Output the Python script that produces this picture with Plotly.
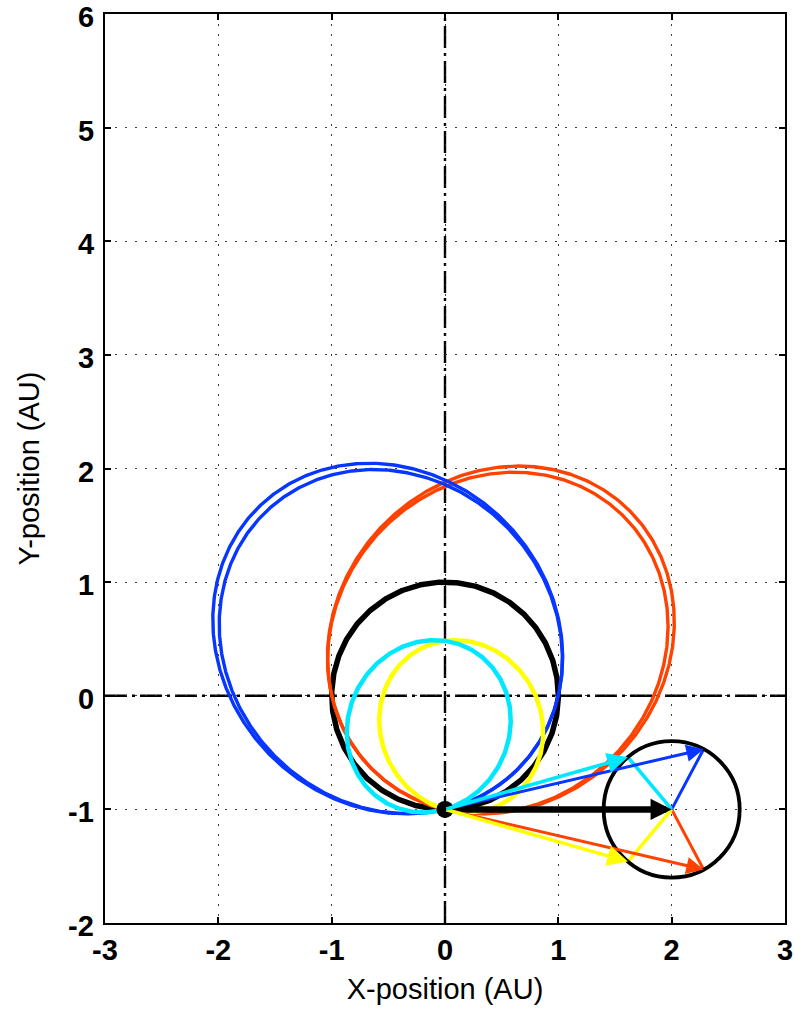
import numpy as np
import plotly.graph_objects as go

# ---------------- data ----------------
x_ticks = [-3, -2, -1, 0, 1, 2, 3]
y_ticks = [-2, -1, 0, 1, 2, 3, 4, 5, 6]
x_range = [-3, 3]
y_range = [-2, 6]

earth_pos = [0.0, -1.0]          # AU
earth_vel = [1.0, 0.0]           # in units of Earth's orbital speed
arrow_scale = 2.0                # velocity arrows drawn at 2x
dv_mag = 0.30                    # delta-v magnitude drawn in the velocity diagram
dv_angle_deg = [62, -62, 130, -130]
dv_colors = ["#0636ff", "#ff4200", "#00e8ff", "#ffff00"]
orbit_dv_lap1 = [0.299, 0.295, 0.300, 0.300]
orbit_dv_lap2 = [0.308, 0.304, None, None]
earth_color = "#000000"


def orbit(r0, v0, n=700):
    x, y = r0
    vx, vy = v0
    r = np.hypot(x, y)
    h = x * vy - y * vx
    en = 0.5 * (vx * vx + vy * vy) - 1.0 / r
    a = -1.0 / (2.0 * en)
    ex = vy * h - x / r
    ey = -vx * h - y / r
    e = np.hypot(ex, ey)
    if e < 1e-9:
        ux, uy = 1.0, 0.0
    else:
        ux, uy = ex / e, ey / e
    wx, wy = -uy, ux
    b = a * np.sqrt(1 - e * e)
    cx, cy = -a * e * ux, -a * e * uy
    t = np.linspace(0, 2 * np.pi, n)
    px = cx + a * np.cos(t) * ux + b * np.sin(t) * wx
    py = cy + a * np.cos(t) * uy + b * np.sin(t) * wy
    return px, py


def launch_vel(mag, ang):
    th = np.deg2rad(ang)
    return [earth_vel[0] + mag * np.cos(th), earth_vel[1] + mag * np.sin(th)]


fig = go.Figure()

# Earth orbit
ex_, ey_ = orbit(earth_pos, earth_vel)
fig.add_trace(go.Scatter(x=ex_, y=ey_, mode="lines",
                         line=dict(color=earth_color, width=5.5), hoverinfo="skip"))

# transfer orbits (drawing order: orange, blue, yellow, cyan)
order = [1, 0, 3, 2]
for i in order:
    w = 3.4 if orbit_dv_lap2[i] is not None else 4.5
    for mag in (orbit_dv_lap1[i], orbit_dv_lap2[i]):
        if mag is None:
            continue
        px, py = orbit(earth_pos, launch_vel(mag, dv_angle_deg[i]))
        fig.add_trace(go.Scatter(x=px, y=py, mode="lines",
                                 line=dict(color=dv_colors[i], width=w), hoverinfo="skip"))

# Earth position marker
fig.add_trace(go.Scatter(x=[earth_pos[0]], y=[earth_pos[1]], mode="markers",
                         marker=dict(color="black", size=17), hoverinfo="skip"))

# velocity diagram: delta-v circle
circ_c = [earth_pos[0] + arrow_scale * earth_vel[0], earth_pos[1] + arrow_scale * earth_vel[1]]
circ_r = arrow_scale * dv_mag
fig.add_shape(type="circle", xref="x", yref="y",
              x0=circ_c[0] - circ_r, x1=circ_c[0] + circ_r,
              y0=circ_c[1] - circ_r, y1=circ_c[1] + circ_r,
              line=dict(color="black", width=3.8), layer="above")

annotations = []
# Earth velocity arrow
annotations.append(dict(x=circ_c[0], y=circ_c[1], ax=earth_pos[0], ay=earth_pos[1],
                        xref="x", yref="y", axref="x", ayref="y", text="",
                        showarrow=True, arrowhead=2, arrowsize=0.65, arrowwidth=6.5,
                        arrowcolor="black"))
arrow_w = [3, 3, 3.6, 3.6]
for i in [1, 0, 3, 2]:
    v = launch_vel(dv_mag, dv_angle_deg[i])
    tip = [earth_pos[0] + arrow_scale * v[0], earth_pos[1] + arrow_scale * v[1]]
    fig.add_trace(go.Scatter(x=[circ_c[0], tip[0]], y=[circ_c[1], tip[1]], mode="lines",
                             line=dict(color=dv_colors[i], width=arrow_w[i]), hoverinfo="skip"))
    annotations.append(dict(x=tip[0], y=tip[1], ax=earth_pos[0], ay=earth_pos[1],
                            xref="x", yref="y", axref="x", ayref="y", text="",
                            showarrow=True, arrowhead=2, arrowsize=1.15, arrowwidth=arrow_w[i],
                            arrowcolor=dv_colors[i]))

# dash-dot axes through the origin
dashdot = "22px,5px,3px,5px"
fig.add_shape(type="line", xref="x", yref="y", x0=0, x1=0, y0=y_range[0], y1=y_range[1],
              line=dict(color="black", width=2.4, dash=dashdot), layer="below")
fig.add_shape(type="line", xref="x", yref="y", x0=x_range[0], x1=x_range[1], y0=0, y1=0,
              line=dict(color="black", width=2.4, dash=dashdot), layer="below")

tickfont = dict(family="Liberation Sans, Arial, sans-serif", size=29, color="black", weight="bold")
titlefont = dict(family="Liberation Sans, Arial, sans-serif", size=29, color="black")

# y tick labels as text placed beside the axis (slightly below each gridline, as in the original)
for v in y_ticks:
    annotations.append(dict(x=0, xref="paper", y=v, yref="y", text=str(v), showarrow=False,
                            xanchor="right", yanchor="middle", xshift=-10, yshift=-3,
                            font=tickfont, borderpad=0))
# y axis title
annotations.append(dict(x=0, xref="paper", y=0.5, yref="paper", text="Y-position (AU)",
                        showarrow=False, textangle=-90, xanchor="center", yanchor="middle",
                        xshift=-77, font=titlefont))

axis_common = dict(showgrid=True, gridcolor="rgba(40,40,40,0.9)", gridwidth=1,
                   griddash="2px,8px", zeroline=False, showline=True, linecolor="black",
                   linewidth=2, mirror="ticks", ticks="inside", ticklen=6, tickwidth=1.5,
                   tickcolor="black", tickfont=tickfont, automargin=False,
                   ticklabeloverflow="allow")

fig.update_layout(
    width=795, height=1010,
    margin=dict(l=105, r=10, t=14, b=87),
    plot_bgcolor="white", paper_bgcolor="white",
    showlegend=False,
    annotations=annotations,
    xaxis=dict(range=x_range, tickvals=x_ticks, ticktext=[str(v) for v in x_ticks],
               title=dict(text="X-position (AU)", font=titlefont, standoff=14),
               **axis_common),
    yaxis=dict(range=y_range, tickvals=y_ticks, showticklabels=False,
               **axis_common),
)

fig.write_html("out.html")
